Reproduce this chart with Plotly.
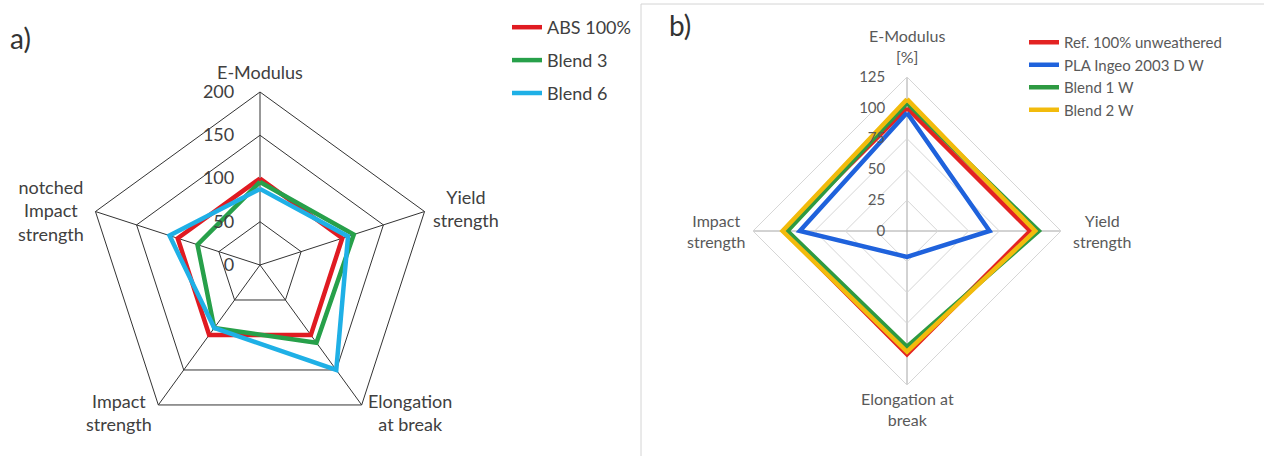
import plotly.graph_objects as go

# ---- panel a): ABS reference vs. blends ----
cats_a = ["E-Modulus", "Yield<br>strength", "Elongation<br>at break",
          "Impact<br>strength", "notched<br>Impact<br>strength"]
ticks_a = [0, 50, 100, 150, 200]
abs_100 = [100, 100, 100, 100, 100]
blend_3 = [96, 114, 111, 90, 76]
blend_6 = [88, 107, 150, 90, 110]

# ---- panel b): weathered materials relative to unweathered reference [%] ----
cats_b = ["E-Modulus<br>[%]", "Yield<br>strength", "Elongation at<br>break",
          "Impact<br>strength"]
ticks_b = [0, 25, 50, 75, 100, 125]
ref_unweathered = [100, 100, 100, 100]
pla_ingeo_w = [96, 67, 21, 87]
blend_1_w = [104, 107, 94, 97]
blend_2_w = [107, 104, 98, 101]

W, H = 1264, 456
FONT = "Lato"

# pixel centres of the category captions around each web
label_pos_a = [(260, 72), (466, 208), (410, 412), (119, 412), (51, 210)]
label_pos_b = [(907, 46), (1102, 231), (907, 409), (716, 231)]


def closed(vals):
    return list(vals) + [vals[0]]


fig = go.Figure()

series_a = [("ABS 100%", abs_100, "#e01b22"),
            ("Blend 3", blend_3, "#27a04a"),
            ("Blend 6", blend_6, "#1fb0e6")]
for name, vals, color in series_a:
    fig.add_trace(go.Scatterpolar(
        r=closed(vals), theta=closed(cats_a), mode="lines", name=name,
        line=dict(color=color, width=4.5), subplot="polar",
        legend="legend", legendgroup=name, hoverinfo="skip"))

series_b = [("Ref. 100% unweathered", ref_unweathered, "#e32322"),
            ("PLA Ingeo 2003 D W", pla_ingeo_w, "#1f62dc"),
            ("Blend 1 W", blend_1_w, "#2e9a42"),
            ("Blend 2 W", blend_2_w, "#f2bb0c")]
for name, vals, color in series_b:
    fig.add_trace(go.Scatterpolar(
        r=closed(vals), theta=closed(cats_b), mode="lines", name=name,
        line=dict(color=color, width=4.5), subplot="polar2",
        legend="legend2", hoverinfo="skip"))


def dom(cx, cy, rad):
    return dict(x=[(cx - rad) / W, (cx + rad) / W],
                y=[1 - (cy + rad) / H, 1 - (cy - rad) / H])


def captions(cats, positions, size, color):
    out = []
    for text, (px, py) in zip(cats, positions):
        out.append(dict(text=text, x=px / W, y=1 - py / H, xref="paper",
                        yref="paper", xanchor="center", yanchor="middle",
                        showarrow=False, align="center",
                        font=dict(size=size, color=color, family=FONT)))
    return out


annotations = [
    dict(text="a)", x=8 / W, y=1 - 38 / H, xref="paper", yref="paper",
         xanchor="left", yanchor="middle", showarrow=False,
         font=dict(size=28, color="#333333", family=FONT)),
    dict(text="b)", x=667 / W, y=1 - 25 / H, xref="paper", yref="paper",
         xanchor="left", yanchor="middle", showarrow=False,
         font=dict(size=28, color="#333333", family=FONT)),
]
annotations += captions(cats_a, label_pos_a, 18, "#404040")
annotations += captions(cats_b, label_pos_b, 16, "#595959")

fig.update_layout(
    width=W, height=H,
    margin=dict(l=0, r=0, t=0, b=0),
    paper_bgcolor="white",
    font=dict(family=FONT),
    polar=dict(
        domain=dom(260, 265, 173),
        gridshape="linear",
        bgcolor="rgba(0,0,0,0)",
        radialaxis=dict(range=[0, 200], tickvals=ticks_a, angle=90,
                        tickangle=90, side="counterclockwise",
                        showline=False, ticks="outside", ticklen=19,
                        tickcolor="rgba(0,0,0,0)",
                        gridcolor="#333333", gridwidth=1,
                        tickfont=dict(size=18, color="#404040", family=FONT)),
        angularaxis=dict(direction="clockwise", rotation=90, ticks="",
                         showticklabels=False,
                         showline=True, linecolor="#333333", linewidth=1,
                         gridcolor="#333333", gridwidth=1),
    ),
    polar2=dict(
        domain=dom(907, 231, 154),
        gridshape="linear",
        bgcolor="rgba(0,0,0,0)",
        radialaxis=dict(range=[0, 125], tickvals=ticks_b, angle=90,
                        tickangle=90, side="counterclockwise",
                        showline=False, ticks="outside", ticklen=16,
                        tickcolor="rgba(0,0,0,0)",
                        gridcolor="#d6d6d6", gridwidth=1,
                        tickfont=dict(size=15, color="#595959", family=FONT)),
        angularaxis=dict(direction="clockwise", rotation=90, ticks="",
                         showticklabels=False,
                         showline=True, linecolor="#d6d6d6", linewidth=1,
                         gridcolor="#a6a6a6", gridwidth=1),
    ),
    legend=dict(x=507 / W, y=1 - 9 / H, xanchor="left", yanchor="top",
                bgcolor="rgba(0,0,0,0)", tracegroupgap=6.5,
                font=dict(size=18, color="#404040", family=FONT)),
    legend2=dict(x=1024 / W, y=1 - 26 / H, xanchor="left", yanchor="top",
                 bgcolor="rgba(0,0,0,0)",
                 font=dict(size=15, color="#595959", family=FONT)),
    shapes=[dict(type="rect", xref="paper", yref="paper",
                 x0=641 / W, x1=1.01, y0=-0.01, y1=1 - 4 / H,
                 line=dict(color="#d4d4d4", width=1), layer="below")],
    annotations=annotations,
)

fig.write_html("out.html")
